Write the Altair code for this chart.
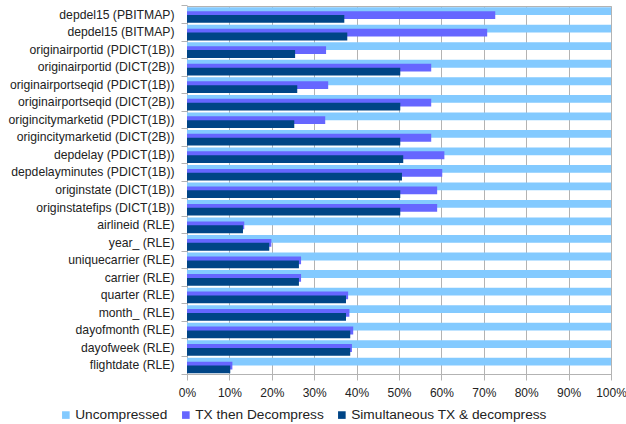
import altair as alt
import pandas as pd

categories = [
    "depdel15 (PBITMAP)", "depdel15 (BITMAP)", "originairportid (PDICT(1B))",
    "originairportid (DICT(2B))", "originairportseqid (PDICT(1B))",
    "originairportseqid (DICT(2B))", "origincitymarketid (PDICT(1B))",
    "origincitymarketid (DICT(2B))", "depdelay (PDICT(1B))",
    "depdelayminutes (PDICT(1B))", "originstate (DICT(1B))",
    "originstatefips (DICT(1B))", "airlineid (RLE)", "year_ (RLE)",
    "uniquecarrier (RLE)", "carrier (RLE)", "quarter (RLE)", "month_ (RLE)",
    "dayofmonth (RLE)", "dayofweek (RLE)", "flightdate (RLE)",
]
uncompressed = [1.0] * 21
tx_then_decompress = [0.727, 0.708, 0.328, 0.576, 0.333, 0.576, 0.326, 0.576,
                      0.607, 0.602, 0.590, 0.590, 0.135, 0.199, 0.269, 0.269,
                      0.380, 0.383, 0.392, 0.389, 0.107]
simultaneous = [0.371, 0.378, 0.255, 0.503, 0.260, 0.503, 0.253, 0.503,
                0.510, 0.507, 0.503, 0.503, 0.132, 0.194, 0.264, 0.264,
                0.375, 0.375, 0.385, 0.385, 0.102]
series = ["Uncompressed", "TX then Decompress", "Simultaneous TX & decompress"]
colors = ["#83CAFF", "#6666FF", "#004586"]

rows = []
for name, vals in zip(series, [uncompressed, tx_then_decompress, simultaneous]):
    for c, v in zip(categories, vals):
        rows.append({"category": c, "value": v, "series": name})
df = pd.DataFrame(rows)

FONT = "Liberation Sans"
GRID = "#b3b3b3"

base = alt.Chart(df)

yenc = alt.Y("category:N", sort=categories, title=None,
             scale=alt.Scale(paddingInner=0, paddingOuter=0),
             axis=alt.Axis(labelFont=FONT, labelFontSize=12.2, labelColor="#222",
                           tickColor=GRID, tickSize=6, domainColor=GRID,
                           labelPadding=7, labelLimit=300,
                           bandPosition=1, tickExtra=True))
xenc = alt.X("value:Q", title=None,
             scale=alt.Scale(domain=[0, 1], nice=False),
             axis=alt.Axis(format=".0%", values=[i / 10 for i in range(11)],
                           labelFont=FONT, labelFontSize=12, labelColor="#222",
                           labelOverlap=False, labelFlush=False,
                           grid=True, gridColor=GRID, gridWidth=1,
                           tickColor=GRID, tickSize=6, domainColor=GRID,
                           labelPadding=7))
cenc = alt.Color("series:N", sort=series,
                 scale=alt.Scale(domain=series, range=colors),
                 legend=alt.Legend(title=None, orient="none", direction="horizontal",
                                   legendX=-128, legendY=402, columns=3,
                                   symbolType="square", symbolSize=58,
                                   symbolStrokeWidth=0, labelFont=FONT,
                                   labelFontSize=13.7, labelColor="#222",
                                   labelOffset=2.5, columnPadding=11,
                                   labelLimit=400))

layers = []
for name, off in zip(series, [-3.6, 0.3, 4.2]):
    layers.append(
        base.transform_filter(alt.datum.series == name)
        .mark_bar(height=7.8, yOffset=off)
        .encode(y=yenc, x=xenc, color=cenc)
    )

chart = alt.layer(*layers).properties(
    width=424, height=368,
    autosize=alt.AutoSizeParams(type="none"),
    padding={"left": 187, "top": 6, "right": 15, "bottom": 50},
).configure_view(stroke=GRID)

chart.save("out.html", embed_options={"renderer": "svg", "actions": False})
